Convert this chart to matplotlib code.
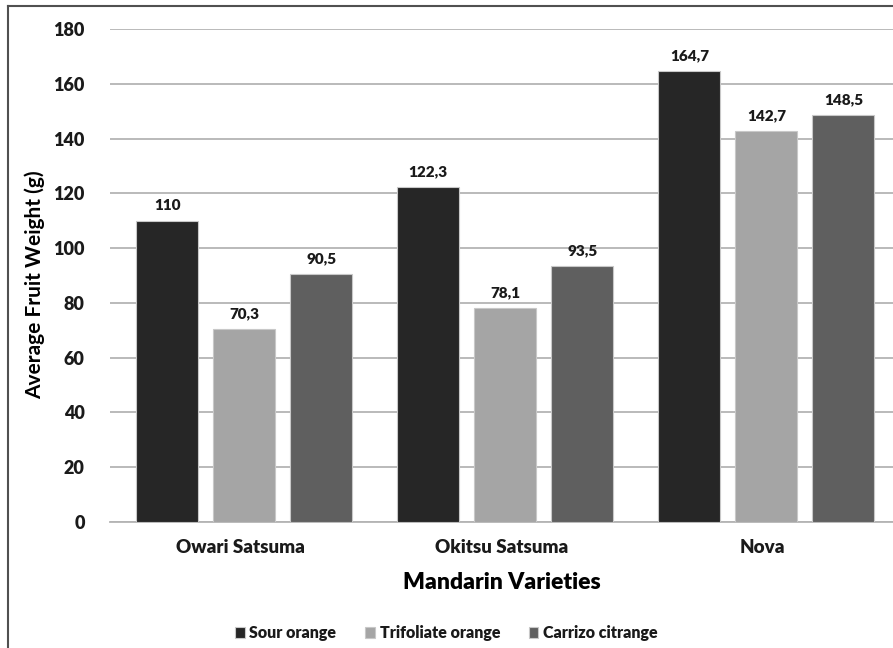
import numpy as np
import matplotlib.pyplot as plt
from matplotlib.lines import Line2D

varieties = ["Owari Satsuma", "Okitsu Satsuma", "Nova"]
rootstocks = ["Sour orange", "Trifoliate orange", "Carrizo citrange"]
sour_orange = [110.0, 122.3, 164.7]
trifoliate_orange = [70.3, 78.1, 142.7]
carrizo_citrange = [90.5, 93.5, 148.5]
value_labels = [["110", "122,3", "164,7"],
                ["70,3", "78,1", "142,7"],
                ["90,5", "93,5", "148,5"]]
yticks = np.arange(0, 181, 20)

colors = ["#262626", "#a5a5a5", "#5f5f5f"]
plt.rcParams['font.family'] = ['Lato', 'DejaVu Sans']
plt.rcParams['font.weight'] = 'bold'
plt.rcParams['text.color'] = '#1a1a1a'
plt.rcParams['xtick.color'] = '#1a1a1a'
plt.rcParams['ytick.color'] = '#1a1a1a'

fig = plt.figure(figsize=(8.93, 6.48), dpi=100)
ax = fig.add_axes([0.123, 0.1944, 0.877, 0.7608])

x = np.arange(len(varieties))
width = 0.237
step = 0.295
series = [sour_orange, trifoliate_orange, carrizo_citrange]

for i, vals in enumerate(series):
    pos = x + (i - 1) * step + 0.015
    bars = ax.bar(pos, vals, width, color=colors[i], edgecolor="#c8c8c8",
                  linewidth=0.8, label=rootstocks[i], zorder=3)
    for b, lab in zip(bars, value_labels[i]):
        ax.text(b.get_x() + b.get_width() / 2, b.get_height() + 3.2, lab,
                ha="center", va="bottom", fontsize=11, fontweight="heavy")

ax.set_xlim(-0.5, 2.5)
ax.set_ylim(0, 180)
ax.set_yticks(yticks, [str(v) for v in yticks], fontsize=13, fontweight="heavy")
ax.set_xticks(x, varieties, fontsize=13.5, fontweight="heavy")
ax.yaxis.grid(True, color="#b4b4b4", linewidth=1.3, zorder=0)
ax.set_axisbelow(True)
ax.tick_params(axis="y", length=0, pad=18)
ax.tick_params(axis="x", length=0, pad=12)
for s in ["top", "right", "left"]:
    ax.spines[s].set_visible(False)
ax.spines["bottom"].set_color("#b4b4b4")
ax.spines["bottom"].set_linewidth(1.3)

ax.set_xlabel("Mandarin Varieties", fontsize=16.5, fontweight="heavy", labelpad=12)
ax.set_ylabel("Average Fruit Weight (g)", fontsize=15, fontweight="bold")
ax.yaxis.set_label_coords(-0.083, 0.481)

fig.legend(loc="center", bbox_to_anchor=(0.5, 0.023), ncol=3, frameon=False,
           prop={"size": 11.5, "weight": "heavy"}, handlelength=0.6,
           handleheight=0.6, handletextpad=0.3, columnspacing=1.8)

# outer frame lines (left and top)
fig.add_artist(Line2D([8 / 893, 8 / 893], [0, 1 - 6 / 648], color="#505050", linewidth=1.5))
fig.add_artist(Line2D([8 / 893, 1], [1 - 6 / 648, 1 - 6 / 648], color="#505050", linewidth=1.5))

fig.savefig("out.png", dpi=100)
